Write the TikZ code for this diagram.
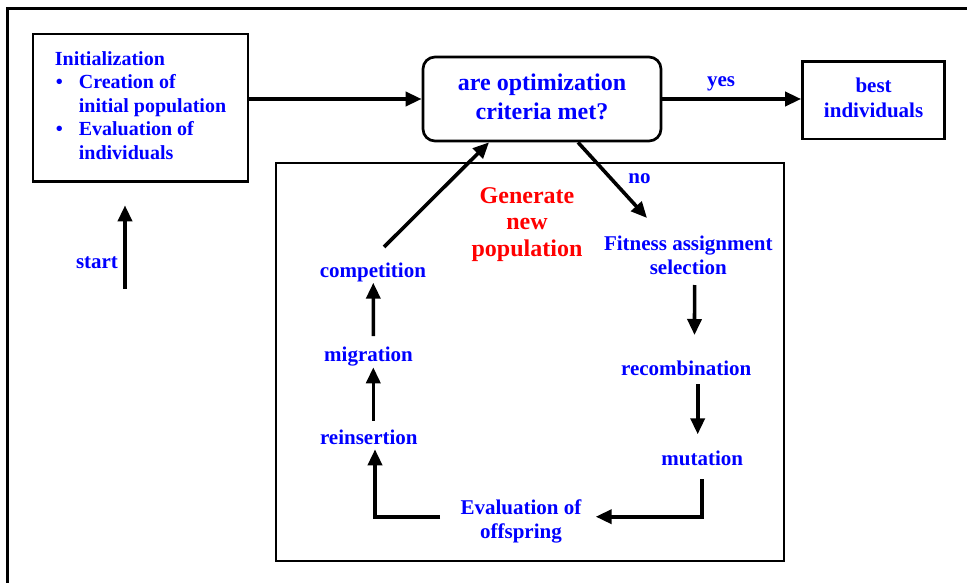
\documentclass[tikz,border=0pt]{standalone}
\usepackage{fontspec}
\setmainfont{Liberation Serif}
\usetikzlibrary{arrows.meta,calc}
\definecolor{lblue}{RGB}{0,0,255}
\definecolor{lred}{RGB}{255,0,0}
\begin{document}
\begin{tikzpicture}[x=1pt,y=-1pt,
  lbl/.style={anchor=base,inner sep=0pt,text=lblue,
    font=\bfseries\fontsize{21}{24.5}\selectfont},
  boxline/.style={draw,line width=2.7pt,inner sep=0pt,text=lblue},
  arr/.style={line width=3.6pt,-{Triangle[length=16pt,width=14pt]}},
]
\useasboundingbox (0,0) rectangle (967,583);
\fill[white] (0,0) rectangle (967,583);

% outer frame (open to the right and bottom)
\draw[line width=2.8pt] (7.5,600) -- (7.5,8.6) -- (990,8.6);

% initialization box
\node[boxline, minimum width=215pt, minimum height=147.5pt,
      font=\bfseries\fontsize{20}{23.5}\selectfont] (init) at (140.5,107.75)
  {\raisebox{1.45pt}{\begin{tabular}[t]{@{}l@{}l@{}}
    \multicolumn{2}{@{}l@{}}{Initialization}\\
    \makebox[24pt][l]{\hspace{1pt}\textbullet} & Creation of\\
    & initial population\\
    \makebox[24pt][l]{\hspace{1pt}\textbullet} & Evaluation of\\
    & individuals
  \end{tabular}}};

% termination test
\node[boxline, rounded corners=12pt, minimum width=238pt, minimum height=84pt,
      font=\bfseries\fontsize{24}{28.7}\selectfont] (q) at (542,99)
  {\raisebox{-1.9pt}{\begin{tabular}[t]{@{}c@{}}are optimization\\criteria met?\end{tabular}}};

% result
\node[boxline, minimum width=142.2pt, minimum height=77.3pt,
      font=\bfseries\fontsize{21}{25}\selectfont] (best) at (873.6,100.3)
  {\begin{tabular}[t]{@{}c@{}}best\\individuals\end{tabular}};

% population loop frame
\node[draw, line width=2.3pt, inner sep=0pt, minimum width=507.6pt,
      minimum height=398.5pt] (pop) at (530,361.95) {};

% labels
\node[lbl] (yes) at (721,86.7) {yes};
\node[lbl] (no) at (639.5,183.3) {no};
\node[lbl] (start) at (97,268) {start};
\node[lbl, text=lred, font=\bfseries\fontsize{24}{26.5}\selectfont] (gen) at (527,203.3)
  {\begin{tabular}[t]{@{}c@{}}Generate\\new\\population\end{tabular}};
\node[lbl] (fit) at (688.3,250)
  {\begin{tabular}[t]{@{}c@{}}Fitness assignment\\selection\end{tabular}};
\node[lbl] (rec) at (686.2,375) {recombination};
\node[lbl] (mut) at (702.2,465) {mutation};
\node[lbl, font=\bfseries\fontsize{21}{24}\selectfont] (eval) at (521,514.3)
  {\begin{tabular}[t]{@{}c@{}}Evaluation of\\offspring\end{tabular}};
\node[lbl] (reins) at (368.8,444) {reinsertion};
\node[lbl] (mig) at (368.5,361) {migration};
\node[lbl] (comp) at (372.9,277) {competition};

% main flow
\draw[arr] ($(init.south)+(-15.5,106)$) -- ($(init.south)+(-15.5,22.5)$);
\draw[arr] (init.east |- q.west) -- (q.west);
\draw[arr] (q.east) -- (q.east -| best.west);
\draw[arr] ($(q.south)+(36,0)$) -- ($(fit.base)+(-41.3,-32)$);

% generation loop
\draw[arr] ($(fit.base)+(6.3,35)$) -- ($(rec.base)+(8.3,-40)$);
\draw[arr] ($(rec.base)+(11.5,9.3)$) -- ($(mut.base)+(-4.5,-30.7)$);
\draw[arr] ($(mut.base)+(-0.5,14.3)$) |- ($(eval.base)+(74.7,2.4)$);
\draw[arr] ($(eval.base)+(-81,2.5)$) -| ($(reins.base)+(6.2,5.3)$);
\draw[arr] ($(reins.base)+(4.5,-23.3)$) -- ($(mig.base)+(4.8,6.3)$);
\draw[arr] ($(mig.base)+(4.8,-25)$) -- ($(comp.base)+(0.4,5.7)$);
\draw[arr] ($(comp.base)+(11.1,-30)$) -- ($(q.south)+(-53,0)$);
\end{tikzpicture}
\end{document}
